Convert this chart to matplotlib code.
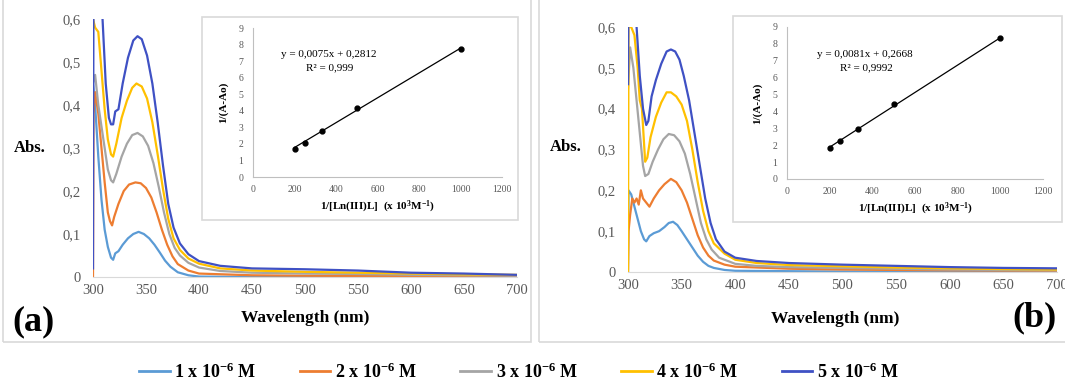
import matplotlib
matplotlib.use("Agg")
import matplotlib.pyplot as plt
from matplotlib.patches import Rectangle
from matplotlib.lines import Line2D
import numpy as np

plt.rcParams['font.family'] = ['Liberation Serif', 'DejaVu Serif']
plt.rcParams['mathtext.fontset'] = 'custom'
plt.rcParams['mathtext.rm'] = 'Liberation Serif:bold'
plt.rcParams['mathtext.it'] = 'Liberation Serif:bold'
plt.rcParams['mathtext.bf'] = 'Liberation Serif:bold'

W, H = 1065, 386

# ---- data: panel (a) ----
wl_a1 = [300, 302, 305, 308, 311, 314, 317, 319, 321, 324, 328, 333, 338, 343, 348, 353, 358, 363, 368, 373, 380, 390, 400, 450, 500, 700]
ab_a1 = [0.45, 0.40, 0.28, 0.18, 0.11, 0.07, 0.045, 0.04, 0.055, 0.06, 0.075, 0.09, 0.10, 0.105, 0.10, 0.09, 0.075, 0.057, 0.038, 0.024, 0.011, 0.004, 0.001, 0.0, 0.0, 0.0]

wl_a2 = [300, 300.5, 302, 305, 308, 311, 314, 316, 318, 320, 324, 329, 334, 340, 345, 350, 355, 360, 365, 370, 375, 380, 390, 400, 450, 500, 600, 700]
ab_a2 = [0.0, 0.38, 0.43, 0.38, 0.30, 0.22, 0.15, 0.13, 0.12, 0.14, 0.17, 0.20, 0.215, 0.22, 0.218, 0.207, 0.185, 0.15, 0.11, 0.075, 0.048, 0.03, 0.015, 0.008, 0.004, 0.003, 0.002, 0.002]

wl_a3 = [300, 302, 305, 308, 311, 314, 317, 319, 322, 327, 332, 337, 342, 347, 352, 357, 362, 367, 372, 377, 382, 390, 400, 420, 450, 500, 550, 600, 650, 700]
ab_a3 = [0.45, 0.47, 0.40, 0.35, 0.30, 0.25, 0.225, 0.22, 0.24, 0.28, 0.31, 0.33, 0.335, 0.327, 0.305, 0.265, 0.21, 0.15, 0.10, 0.068, 0.05, 0.033, 0.022, 0.014, 0.01, 0.008, 0.007, 0.005, 0.004, 0.003]

wl_a4 = [300, 302, 305, 308, 311, 314, 317, 319, 322, 327, 332, 337, 341, 346, 351, 356, 361, 366, 371, 376, 382, 390, 400, 420, 450, 500, 550, 600, 650, 700]
ab_a4 = [0.60, 0.58, 0.57, 0.48, 0.39, 0.32, 0.285, 0.28, 0.31, 0.37, 0.41, 0.44, 0.45, 0.443, 0.415, 0.36, 0.285, 0.205, 0.135, 0.09, 0.063, 0.043, 0.031, 0.02, 0.015, 0.012, 0.01, 0.008, 0.006, 0.005]

wl_a5 = [300, 300.5, 307, 309, 312, 315, 317, 319, 321, 324, 328, 333, 338, 342, 346, 351, 356, 361, 366, 371, 376, 382, 390, 400, 420, 450, 500, 550, 600, 650, 700]
ab_a5 = [0.02, 0.75, 0.75, 0.60, 0.45, 0.37, 0.355, 0.355, 0.385, 0.39, 0.45, 0.51, 0.55, 0.56, 0.553, 0.515, 0.45, 0.36, 0.26, 0.17, 0.115, 0.078, 0.053, 0.037, 0.026, 0.02, 0.018, 0.015, 0.01, 0.008, 0.005]

# ---- data: panel (b) ----
wl_b1 = [300, 300.5, 303, 306, 309, 312, 315, 317, 320, 324, 329, 334, 338, 342, 346, 350, 355, 360, 365, 370, 375, 380, 390, 400, 500, 700]
ab_b1 = [0.0, 0.20, 0.19, 0.16, 0.13, 0.10, 0.08, 0.075, 0.088, 0.095, 0.10, 0.11, 0.12, 0.123, 0.115, 0.10, 0.08, 0.06, 0.04, 0.025, 0.015, 0.01, 0.005, 0.003, 0.001, 0.0]

wl_b2 = [300, 300.5, 302, 304, 306, 308, 310, 312, 314, 317, 320, 324, 329, 334, 340, 345, 350, 355, 360, 365, 370, 375, 380, 390, 400, 450, 500, 600, 700]
ab_b2 = [0.0, 0.10, 0.14, 0.18, 0.17, 0.18, 0.165, 0.20, 0.18, 0.17, 0.16, 0.18, 0.20, 0.215, 0.228, 0.22, 0.20, 0.17, 0.13, 0.09, 0.06, 0.04, 0.028, 0.018, 0.013, 0.008, 0.006, 0.004, 0.003]

wl_b3 = [300, 302, 305, 308, 311, 314, 316, 319, 323, 328, 333, 338, 343, 348, 353, 358, 363, 368, 373, 378, 385, 400, 420, 450, 500, 550, 600, 650, 700]
ab_b3 = [0.45, 0.55, 0.50, 0.42, 0.34, 0.26, 0.235, 0.24, 0.27, 0.30, 0.325, 0.338, 0.335, 0.32, 0.29, 0.24, 0.18, 0.12, 0.08, 0.055, 0.035, 0.02, 0.015, 0.012, 0.01, 0.008, 0.006, 0.005, 0.004]

wl_b4 = [300, 300.5, 303, 306, 309, 311, 313, 316, 318, 321, 326, 331, 336, 340, 345, 350, 355, 360, 365, 370, 375, 380, 390, 400, 420, 450, 500, 550, 600, 650, 700]
ab_b4 = [0.0, 0.60, 0.60, 0.58, 0.50, 0.42, 0.40, 0.27, 0.28, 0.33, 0.38, 0.415, 0.44, 0.44, 0.43, 0.41, 0.37, 0.30, 0.22, 0.15, 0.10, 0.07, 0.045, 0.03, 0.022, 0.017, 0.014, 0.011, 0.009, 0.007, 0.006]

wl_b5 = [300, 300.5, 306, 308, 311, 314, 317, 319, 322, 326, 331, 336, 340, 344, 348, 352, 357, 362, 367, 372, 377, 382, 390, 400, 420, 450, 500, 550, 600, 650, 700]
ab_b5 = [0.46, 0.75, 0.75, 0.60, 0.48, 0.40, 0.36, 0.37, 0.43, 0.47, 0.51, 0.54, 0.545, 0.54, 0.52, 0.48, 0.42, 0.34, 0.26, 0.18, 0.12, 0.08, 0.05, 0.035, 0.027, 0.022, 0.018, 0.015, 0.012, 0.01, 0.009]

# ---- inset (Benesi-Hildebrand) data ----
inv_conc = [200, 250, 333.3, 500, 1000]
inv_dA_a = [1.72, 2.08, 2.79, 4.15, 7.73]
inv_dA_b = [1.82, 2.27, 2.94, 4.45, 8.34]
slope_a, icpt_a, r2_a = 0.0075, 0.2812, "0,999"
slope_b, icpt_b, r2_b = 0.0081, 0.2668, "0,9992"

labels = ["1 x 10$^{-6}$ M", "2 x 10$^{-6}$ M", "3 x 10$^{-6}$ M", "4 x 10$^{-6}$ M", "5 x 10$^{-6}$ M"]
colors = ["#5B9BD5", "#ED7D31", "#A5A5A5", "#FFC000", "#3F51C4"]

xticks = [300, 350, 400, 450, 500, 550, 600, 650, 700]
yticks = [0, 0.1, 0.2, 0.3, 0.4, 0.5, 0.6]
ytick_labels = ["0", "0,1", "0,2", "0,3", "0,4", "0,5", "0,6"]
in_xticks = [0, 200, 400, 600, 800, 1000, 1200]
in_yticks = list(range(10))

fig = plt.figure(figsize=(W / 100, H / 100), dpi=100)


def fr(x0, y0, x1, y1):
    # pixel box (top-left origin) -> figure fraction rect
    return [x0 / W, 1 - y1 / H, (x1 - x0) / W, (y1 - y0) / H]


def panel(main_px, spectra, box_px, inset_px, yvals, slope, icpt, r2, eq_xy):
    ax = fig.add_axes(fr(*main_px))
    for (wl, ab), c in zip(spectra, colors):
        ax.plot(wl, ab, color=c, lw=1.6, solid_joinstyle='round')
    ax.set_xlim(300, 700)
    ax.set_ylim(0, 0.6)
    ax.set_xticks(xticks)
    ax.set_yticks(yticks)
    ax.set_yticklabels(ytick_labels)
    for s in ["top", "right", "left"]:
        ax.spines[s].set_visible(False)
    ax.spines["bottom"].set_color("#D9D9D9")
    ax.tick_params(length=0, labelsize=10.5, colors="#595959")
    ax.tick_params(axis='y', pad=9)
    ax.tick_params(axis='x', pad=5)

    bx = fr(*box_px)
    fig.add_artist(Rectangle((bx[0], bx[1]), bx[2], bx[3], transform=fig.transFigure,
                             facecolor="white", edgecolor="#D9D9D9", lw=1.2, zorder=1))
    ins = fig.add_axes(fr(*inset_px), zorder=2)
    ins.patch.set_alpha(0)
    xs = np.array([inv_conc[0], inv_conc[-1]])
    ins.plot(xs, slope * xs + icpt, color="black", lw=0.9)
    ins.plot(inv_conc, yvals, "o", color="black", ms=3.5)
    ins.set_xlim(0, 1200)
    ins.set_ylim(0, 9)
    ins.set_xticks(in_xticks)
    ins.set_yticks(in_yticks)
    for s in ["top", "right"]:
        ins.spines[s].set_visible(False)
    for s in ["left", "bottom"]:
        ins.spines[s].set_color("#BFBFBF")
    ins.tick_params(length=0, labelsize=7, colors="#595959")
    ins.tick_params(axis='y', pad=7)
    ins.tick_params(axis='x', pad=6)
    ins.set_xlabel("1/[Ln(III)L]  (x 10$^{3}$M$^{-1}$)", fontsize=8, fontweight='bold', labelpad=3)
    ins.set_ylabel("1/(A-Ao)", fontsize=8, fontweight='bold', labelpad=7)
    ins.text(eq_xy[0], eq_xy[1], "y = %sx + %s" % (str(slope).replace('.', ','), str(icpt).replace('.', ',')),
             fontsize=8, ha='center', va='center')
    ins.text(eq_xy[0] + 5, eq_xy[1] - 0.8, "R² = " + r2, fontsize=8, ha='center', va='center')
    return ax


spec_a = [(wl_a1, ab_a1), (wl_a2, ab_a2), (wl_a3, ab_a3), (wl_a4, ab_a4), (wl_a5, ab_a5)]
spec_b = [(wl_b1, ab_b1), (wl_b2, ab_b2), (wl_b3, ab_b3), (wl_b4, ab_b4), (wl_b5, ab_b5)]

# outer panel frames
for x0, x1 in [(3, 531), (539, 1068)]:
    b = fr(x0, -5, x1, 342)
    fig.add_artist(Rectangle((b[0], b[1]), b[2], b[3], transform=fig.transFigure,
                             facecolor="none", edgecolor="#D9D9D9", lw=1.2, zorder=0))

panel((93, 19, 517, 277), spec_a, (202, 17, 518, 220), (253, 28, 502, 177),
      inv_dA_a, slope_a, icpt_a, r2_a, (365, 7.4))
panel((628, 27, 1057, 272), spec_b, (733, 16, 1062, 222), (787, 27, 1043, 179),
      inv_dA_b, slope_b, icpt_b, r2_b, (365, 7.4))

fig.text(30 / W, 1 - 148 / H, "Abs.", fontsize=12, fontweight='bold', ha='center', va='center')
fig.text(566 / W, 1 - 147 / H, "Abs.", fontsize=12, fontweight='bold', ha='center', va='center')
fig.text(305 / W, 1 - 318 / H, "Wavelength (nm)", fontsize=12.5, fontweight='bold', ha='center', va='center')
fig.text(835 / W, 1 - 319 / H, "Wavelength (nm)", fontsize=12.5, fontweight='bold', ha='center', va='center')
fig.text(33 / W, 1 - 322 / H, "(a)", fontsize=26, fontweight='bold', ha='center', va='center')
fig.text(1035 / W, 1 - 318 / H, "(b)", fontsize=26, fontweight='bold', ha='center', va='center')

handles = [Line2D([], [], color=c, lw=2) for c in colors]
fig.legend(handles, labels, loc='center', bbox_to_anchor=(519 / W, 1 - 372 / H), ncol=5,
           frameon=False, prop={'weight': 'bold', 'size': 13}, handlelength=1.7,
           handletextpad=0.25, columnspacing=2.4)

fig.savefig("out.png", dpi=100)
